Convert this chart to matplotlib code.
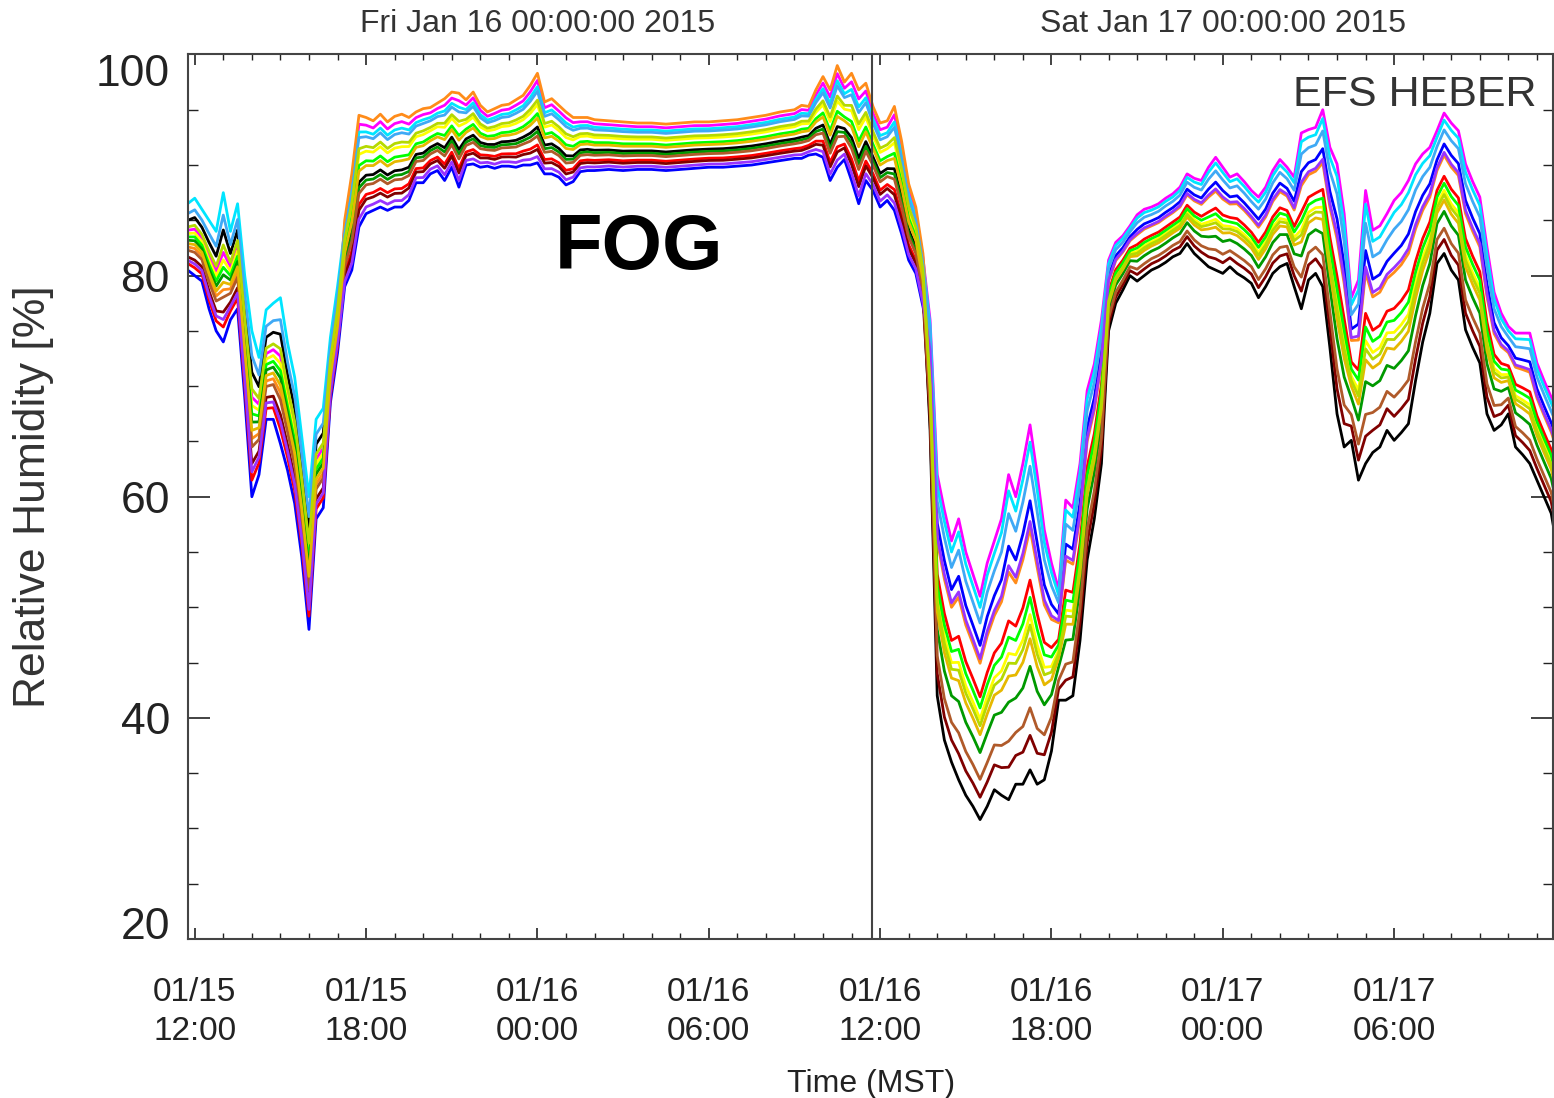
import datetime as dt
import matplotlib
matplotlib.use("Agg")
import matplotlib.pyplot as plt
import matplotlib.dates as mdates
import numpy as np

plt.rcParams['font.family'] = ['Liberation Sans', 'DejaVu Sans']

start = dt.datetime(2015, 1, 15)

# hours after 01/15 00:00 MST
hours = [11.75, 12.0, 12.25, 12.5, 12.75, 13.0, 13.25, 13.5, 13.75, 14.0,
         14.25, 14.5, 14.75, 15.0, 15.25, 15.5, 15.75, 16.0, 16.25, 16.5,
         16.75, 17.0,
         17.25, 17.5, 17.75, 18.0, 18.25, 18.5, 18.75, 19.0, 19.25, 19.5,
         19.75, 20.0, 20.25, 20.5, 20.75, 21.0, 21.25, 21.5, 21.75, 22.0,
         22.25, 22.5, 22.75, 23.0, 23.25, 23.5, 23.75, 24.0, 24.25, 24.5,
         24.75, 25.0, 25.25, 25.5, 25.75, 26.0, 26.5, 27.0, 27.5, 28.0,
         28.5, 29.0, 29.5, 30.0, 30.5, 31.0, 31.5, 32.0, 32.5, 33.0,
         33.25, 33.5, 33.75, 34.0, 34.25, 34.5, 34.75, 35.0, 35.25, 35.5,
         35.75, 36.0, 36.25, 36.5, 36.75, 37.0, 37.25, 37.5,
         37.75, 38.0, 38.25, 38.5, 38.75, 39.0, 39.25, 39.5, 39.75, 40.0,
         40.25, 40.5, 40.75, 41.0, 41.25, 41.5, 41.75, 42.0, 42.25, 42.5,
         42.75, 43.0, 43.25, 43.5, 43.75, 44.0, 44.25, 44.5, 44.75, 45.0,
         45.25, 45.5, 45.75, 46.0, 46.25, 46.5, 46.75, 47.0, 47.25, 47.5,
         47.75, 48.0, 48.25, 48.5, 48.75, 49.0, 49.25, 49.5, 49.75, 50.0,
         50.25, 50.5, 50.75, 51.0, 51.25, 51.5, 51.75, 52.0, 52.25, 52.5,
         52.75, 53.0, 53.25, 53.5, 53.75, 54.0, 54.25, 54.5, 54.75, 55.0,
         55.25, 55.5, 55.75, 56.0, 56.25, 56.5, 56.75, 57.0, 57.25, 57.5,
         57.75, 58.0, 58.25, 58.5, 58.75, 59.0, 59.25, 59.5, 59.6]

# wettest and driest sensor at each time [%]
rh_top = [86.5, 87.0, 86.0, 85.0, 84.0, 87.5, 84.0, 86.5, 80.0, 75.0,
          72.6, 76.9, 77.5, 78.0, 73.9, 70.8, 65.4, 60.0, 67.0, 68.0,
          74.4, 79.0,
          85.0, 89.2, 94.5, 94.3, 94.0, 94.6, 93.9, 94.4, 94.6, 94.3,
          94.8, 95.1, 95.2, 95.6, 96.0, 96.6, 96.5, 95.9, 96.6, 95.4,
          94.8, 95.1, 95.4, 95.5, 95.9, 96.3, 97.2, 98.3, 95.7, 96.0,
          95.4, 94.8, 94.3, 94.3, 94.3, 94.1, 94.0, 93.9, 93.8, 93.8,
          93.7, 93.8, 93.9, 93.9, 94.0, 94.1, 94.3, 94.5, 94.8, 95.0,
          95.4, 95.3, 96.8, 98.0, 96.8, 99.0, 97.5, 98.3, 96.8, 97.4,
          95.3, 93.8, 94.0, 95.3, 92.2, 88.3, 86.2, 82.0,
          76.0, 62.0, 58.8, 56.0, 58.0, 55.0, 53.0, 51.0, 54.0, 56.0,
          58.0, 62.0, 60.0, 63.0, 66.5, 62.0, 57.0, 54.0, 51.6, 59.7,
          59.0, 63.0, 69.6, 72.0, 76.0, 81.4, 83.0, 83.6, 84.5, 85.5,
          86.0, 86.2, 86.5, 87.0, 87.4, 88.0, 89.2, 88.8, 88.6, 89.8,
          90.7, 89.8, 88.9, 89.2, 88.5, 87.7, 87.1, 88.0, 89.5, 90.5,
          89.8, 88.9, 92.9, 93.2, 93.4, 95.0, 91.6, 90.1, 85.6, 78.0,
          79.6, 87.7, 84.1, 84.5, 85.6, 86.8, 87.5, 88.6, 90.1, 91.0,
          91.6, 93.1, 94.7, 93.8, 93.1, 90.1, 88.5, 87.1, 82.6, 78.5,
          76.6, 75.4, 74.8, 74.8, 74.8, 72.1, 70.5, 69.0, 68.5]

rh_bottom = [80.5, 80.0, 79.5, 77.0, 75.0, 74.0, 76.0, 77.0, 69.0, 60.0,
             62.0, 67.0, 67.0, 64.8, 62.4, 59.4, 54.5, 48.0, 58.0, 59.0,
             68.5, 73.0,
             79.0, 80.5, 84.4, 85.6, 85.9, 86.2, 85.9, 86.2, 86.2, 86.8,
             88.4, 88.4, 89.2, 89.5, 88.6, 89.8, 88.0, 90.0, 90.1, 89.8,
             89.9, 89.7, 89.9, 89.9, 89.8, 90.0, 90.0, 90.2, 89.2, 89.2,
             88.9, 88.2, 88.5, 89.4, 89.5, 89.5, 89.6, 89.5, 89.6, 89.6,
             89.5, 89.6, 89.7, 89.8, 89.8, 89.9, 90.0, 90.2, 90.4, 90.6,
             90.6, 90.9, 91.0, 90.7, 88.6, 89.8, 90.5, 88.6, 86.5, 88.6,
             87.7, 86.2, 86.8, 85.9, 83.8, 81.4, 80.2, 77.2,
             66.0, 42.0, 38.0, 36.0, 34.4, 33.0, 32.0, 30.8, 32.0, 33.5,
             33.0, 32.6, 34.0, 34.0, 35.3, 34.0, 34.4, 37.0, 41.6, 41.6,
             42.0, 47.0, 54.3, 58.0, 63.0, 75.0, 77.5, 78.7, 80.0, 79.5,
             80.0, 80.5, 80.8, 81.2, 81.7, 82.0, 82.9, 82.0, 81.4, 80.8,
             80.5, 80.2, 80.8, 80.2, 79.8, 79.3, 78.0, 79.0, 80.2, 80.8,
             81.1, 79.0, 77.0, 79.6, 80.2, 79.0, 73.5, 67.5, 64.5, 65.1,
             61.5, 63.0, 64.0, 64.5, 66.0, 65.1, 65.8, 66.6, 70.5, 74.0,
             76.6, 81.1, 82.0, 80.5, 79.6, 75.1, 73.5, 72.1, 67.5, 66.0,
             66.5, 67.5, 64.5, 63.8, 63.0, 61.5, 60.0, 58.5, 57.0]

sensor_colors = ['#000000', '#ff00ff', '#0000ff', '#00e5ff', '#ff0000',
                 '#ff8c1a', '#ffff00', '#00ff00', '#009900', '#800000',
                 '#b05a2a', '#3fa9f5', '#9933ff', '#e6b800', '#b5d900']

# where each sensor sits between driest (0) and wettest (1)
rank_afternoon = [0.75, 0.60, 0.00, 1.00, 0.10, 0.35, 0.55, 0.50, 0.45, 0.20,
                  0.30, 0.85, 0.15, 0.40, 0.65]
rank_fog = [0.40, 0.92, 0.00, 0.85, 0.20, 1.00, 0.65, 0.55, 0.35, 0.15,
            0.30, 0.80, 0.07, 0.50, 0.70]
rank_day2 = [0.00, 1.00, 0.78, 0.95, 0.55, 0.70, 0.45, 0.50, 0.30, 0.10,
             0.18, 0.88, 0.72, 0.38, 0.42]
period_edges = [17.1, 37.6]

t = np.array(hours)
top = np.array(rh_top)
bot = np.array(rh_bottom)
period = np.digitize(t, period_edges)
times = [start + dt.timedelta(hours=h) for h in hours]

fig = plt.figure(figsize=(15.54, 10.98), dpi=100)
ax = fig.add_axes([0.121, 0.1448, 0.8786, 0.8056])

for i, c in enumerate(sensor_colors):
    frac = np.choose(period, [rank_afternoon[i], rank_fog[i], rank_day2[i]])
    ax.plot(times, bot + frac * (top - bot), color=c, lw=2.0)

# local noon marker
ax.axvline(start + dt.timedelta(hours=35.705), color='#444444', lw=1.5)

ax.set_xlim(start + dt.timedelta(hours=11.765), start + dt.timedelta(hours=59.576))
ax.set_ylim(20, 100)

ax.xaxis.set_major_locator(mdates.HourLocator(byhour=[0, 6, 12, 18]))
ax.xaxis.set_minor_locator(mdates.HourLocator())
ax.xaxis.set_major_formatter(mdates.DateFormatter('%m/%d\n%H:%M'))
ax.set_yticks([20, 40, 60, 80, 100])
ax.set_yticks(np.arange(20, 101, 5), minor=True)

tick_col = '#222222'
ax.tick_params(axis='x', which='major', direction='in', length=8, width=1.2,
               top=True, labelsize=24, pad=27, colors=tick_col)
ax.tick_params(axis='x', which='minor', direction='in', length=4.5, width=1.0,
               top=True, colors=tick_col)
ax.tick_params(axis='y', which='major', direction='in', length=16, width=1.2,
               right=True, labelsize=32, pad=13, colors=tick_col)
ax.tick_params(axis='y', which='minor', direction='in', length=7, width=1.0,
               right=True, colors=tick_col)
for lab in ax.get_xticklabels():
    lab.set_multialignment('center')
    lab.set_linespacing(1.35)
ylabs = ax.get_yticklabels()
ylabs[0].set_va('baseline')
ylabs[-1].set_va('top')

for s in ax.spines.values():
    s.set_color('#444444')
    s.set_linewidth(1.5)

ax.set_xlabel('Time (MST)', fontsize=23, color=tick_col, labelpad=16)
ax.set_ylabel('Relative Humidity [%]', fontsize=32, color='#333333', labelpad=30)

# day stamps along the top edge
for day, txt in [(16, 'Fri Jan 16 00:00:00 2015'), (17, 'Sat Jan 17 00:00:00 2015')]:
    ax.text(dt.datetime(2015, 1, day), 1.034, txt, transform=ax.get_xaxis_transform(),
            ha='center', va='center', fontsize=23, color='#333333')

ax.text(0.988, 0.954, 'EFS HEBER', transform=ax.transAxes, ha='right', va='center',
        fontsize=31, color='#333333')
ax.text(0.33, 0.781, 'FOG', transform=ax.transAxes, ha='center', va='center',
        fontsize=56, fontweight='bold', color='black')

fig.savefig('out.png', dpi=100)
